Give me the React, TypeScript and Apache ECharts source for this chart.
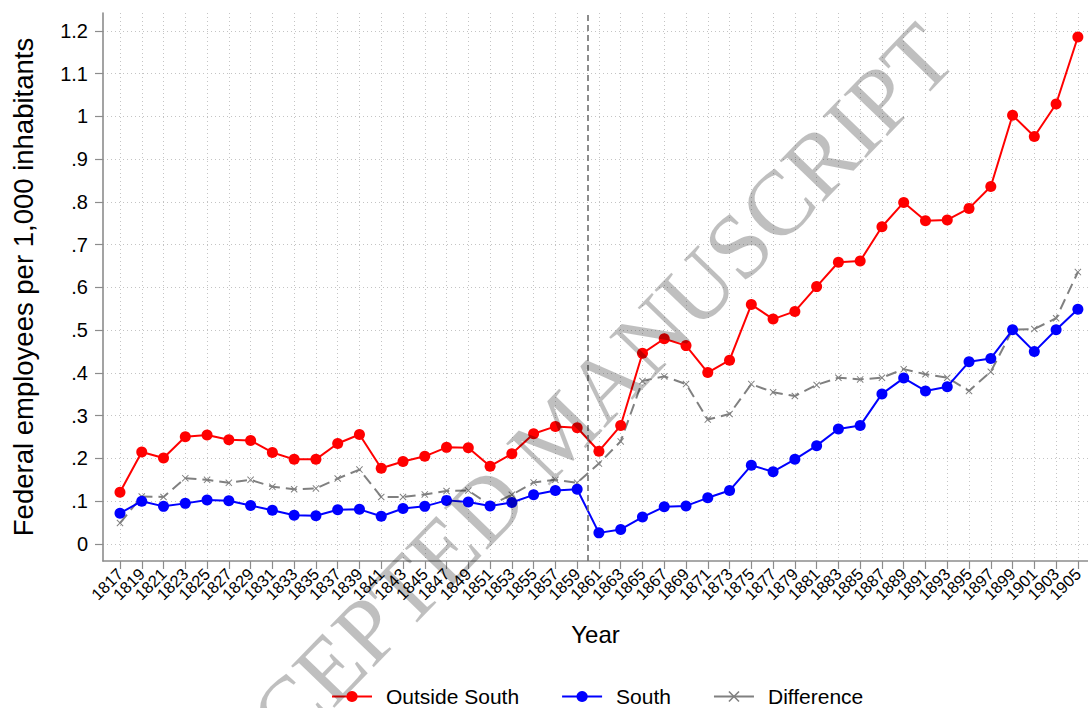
import React, { useEffect, useRef } from "react";
import * as echarts from "echarts";

const years = [
  1817, 1819, 1821, 1823, 1825, 1827, 1829, 1831, 1833, 1835, 1837, 1839, 1841, 1843, 1845,
  1847, 1849, 1851, 1853, 1855, 1857, 1859, 1861, 1863, 1865, 1867, 1869, 1871, 1873, 1875,
  1877, 1879, 1881, 1883, 1885, 1887, 1889, 1891, 1893, 1895, 1897, 1899, 1901, 1903, 1905,
];

const outsideSouth = [
  0.121, 0.215, 0.201, 0.251, 0.255, 0.244, 0.242, 0.214, 0.198, 0.198, 0.235, 0.256, 0.177, 0.193,
  0.205, 0.226, 0.225, 0.182, 0.211, 0.258, 0.275, 0.272, 0.217, 0.277, 0.446, 0.48, 0.464, 0.401,
  0.43, 0.56, 0.526, 0.544, 0.602, 0.659, 0.662, 0.742, 0.799, 0.756, 0.758, 0.785, 0.836, 1.003,
  0.953, 1.029, 1.186,
];

const south = [
  0.072, 0.1, 0.088, 0.095, 0.103, 0.101, 0.09, 0.079, 0.067, 0.066, 0.08, 0.081, 0.065, 0.083,
  0.088, 0.102, 0.098, 0.089, 0.097, 0.115, 0.125, 0.128, 0.026, 0.034, 0.063, 0.087, 0.089, 0.108,
  0.125, 0.184, 0.169, 0.198, 0.23, 0.269, 0.277, 0.351, 0.388, 0.358, 0.368, 0.426, 0.434, 0.501,
  0.45, 0.501, 0.549,
];

const difference = [
  0.049, 0.111, 0.11, 0.154, 0.15, 0.143, 0.15, 0.134, 0.128, 0.13, 0.153, 0.174, 0.11, 0.11,
  0.116, 0.124, 0.125, 0.091, 0.115, 0.144, 0.15, 0.143, 0.188, 0.24, 0.381, 0.392, 0.374, 0.291,
  0.304, 0.374, 0.355, 0.346, 0.372, 0.389, 0.385, 0.389, 0.409, 0.397, 0.389, 0.358, 0.403, 0.501,
  0.503, 0.528, 0.636,
];

const yTicks = [0, 0.1, 0.2, 0.3, 0.4, 0.5, 0.6, 0.7, 0.8, 0.9, 1, 1.1, 1.2];
const breakYear = 1860;
const seriesNames = ["Outside South", "South", "Difference"];

const SANS = '"Liberation Sans", Arial, Helvetica, sans-serif';
const X_SYMBOL =
  "path://M0,1 L1,0 L5,4 L9,0 L10,1 L6,5 L10,9 L9,10 L5,6 L1,10 L0,9 L4,5 Z";

function fmtY(v: number): string {
  if (Math.abs(v) < 1e-9) return "0";
  const s = String(Math.round(v * 10) / 10);
  return s.startsWith("0.") ? s.slice(1) : s;
}

export default function App() {
  const ref = useRef<HTMLDivElement>(null);
  useEffect(() => {
    const chart = echarts.init(ref.current!, null, { renderer: "svg" });
    const pair = (arr: number[]) => years.map((y, i) => [y, arr[i]]);
    const option: any = {
      animation: false,
      backgroundColor: "#ffffff",
      grid: [
        {
          left: 103,
          right: 0,
          top: 13,
          bottom: 147,
          containLabel: false,
          outerBoundsMode: "none",
        },
        {
          left: 109.12,
          width: 979.65,
          top: 13,
          bottom: 147,
          containLabel: false,
          outerBoundsMode: "none",
        },
      ],
      xAxis: [
        {
          type: "value",
          gridIndex: 0,
          min: 1815.44,
          max: 1905.93,
          axisLine: { show: true, onZero: false, lineStyle: { color: "#8c8c8c", width: 1.6 } },
          axisTick: { show: true, length: 8, customValues: years, lineStyle: { color: "#8c8c8c", width: 1.2 } },
          axisLabel: { show: false },
          splitLine: { show: true, lineStyle: { color: "#c4c4c4", width: 1, type: [1, 3] } },
          name: "Year",
          nameLocation: "middle",
          nameGap: 61,
          nameTextStyle: { fontSize: 24, fontFamily: SANS, color: "#000" },
        },
        {
          type: "category",
          gridIndex: 1,
          data: years.map(String),
          boundaryGap: true,
          axisLine: { show: false, onZero: false },
          axisTick: { show: false },
          splitLine: { show: false },
          axisLabel: {
            interval: 0,
            rotate: 45,
            fontSize: 16.5,
            fontFamily: SANS,
            color: "#000",
            margin: 10,
          },
        },
      ],
      yAxis: [
        {
          type: "value",
          gridIndex: 0,
          min: -0.0398,
          max: 1.242,
          axisLine: { show: true, onZero: false, lineStyle: { color: "#8c8c8c", width: 1.6 } },
          axisTick: { show: true, length: 8, customValues: yTicks, lineStyle: { color: "#8c8c8c", width: 1.2 } },
          axisLabel: {
            customValues: yTicks,
            fontSize: 20,
            fontFamily: SANS,
            color: "#000",
            margin: 15,
            showMinLabel: true,
            showMaxLabel: true,
            formatter: (v: number) => fmtY(v),
          },
          splitLine: { show: true, lineStyle: { color: "#c4c4c4", width: 1, type: [1, 3] } },
          name: "Federal employees per 1,000 inhabitants",
          nameLocation: "middle",
          nameGap: 66,
          nameTextStyle: { fontSize: 27.5, fontFamily: SANS, color: "#000" },
        },
        {
          type: "value",
          gridIndex: 1,
          show: false,
        },
      ],
      legend: {
        top: 681,
        left: 326,
        itemWidth: 40,
        itemHeight: 14,
        itemGap: 42,
        textStyle: { fontSize: 21, fontFamily: SANS, color: "#000", padding: [0, 0, 0, 9] },
        data: [
          { name: seriesNames[0] },
          { name: seriesNames[1] },
          { name: seriesNames[2], lineStyle: { type: "solid" } },
        ],
      },
      series: [
        {
          name: seriesNames[0],
          type: "line",
          xAxisIndex: 0,
          yAxisIndex: 0,
          data: pair(outsideSouth),
          symbol: "circle",
          symbolSize: 11,
          lineStyle: { color: "#ff0000", width: 2 },
          itemStyle: { color: "#ff0000" },
          z: 4,
          markLine: {
            silent: true,
            symbol: "none",
            label: { show: false },
            lineStyle: { color: "#707070", width: 1.6, type: [6, 4] },
            data: [{ xAxis: breakYear }],
          },
        },
        {
          name: seriesNames[1],
          type: "line",
          xAxisIndex: 0,
          yAxisIndex: 0,
          data: pair(south),
          symbol: "circle",
          symbolSize: 11,
          lineStyle: { color: "#0000ff", width: 2 },
          itemStyle: { color: "#0000ff" },
          z: 4,
        },
        {
          name: seriesNames[2],
          type: "line",
          xAxisIndex: 0,
          yAxisIndex: 0,
          data: pair(difference),
          symbol: X_SYMBOL,
          symbolSize: 7,
          lineStyle: { color: "#808080", width: 2, type: [11, 6] },
          itemStyle: { color: "#808080" },
          z: 3,
        },
      ],
      graphic: [
        {
          type: "text",
          x: 558,
          y: 432,
          rotation: (46 * Math.PI) / 180,
          z: 100,
          silent: true,
          style: {
            text: "ACCEPTED MANUSCRIPT",
            fill: "rgba(0,0,0,0.25)",
            fontSize: 92,
            fontFamily: '"Liberation Serif", "Times New Roman", serif',
            align: "center",
            verticalAlign: "middle",
            textAlign: "center",
            textVerticalAlign: "middle",
          },
        },
      ],
    };
    chart.setOption(option);
    return () => chart.dispose();
  }, []);
  return (
    <div
      ref={ref}
      style={{ position: "absolute", left: 0, top: 0, width: 1088, height: 708, overflow: "hidden" }}
    />
  );
}
